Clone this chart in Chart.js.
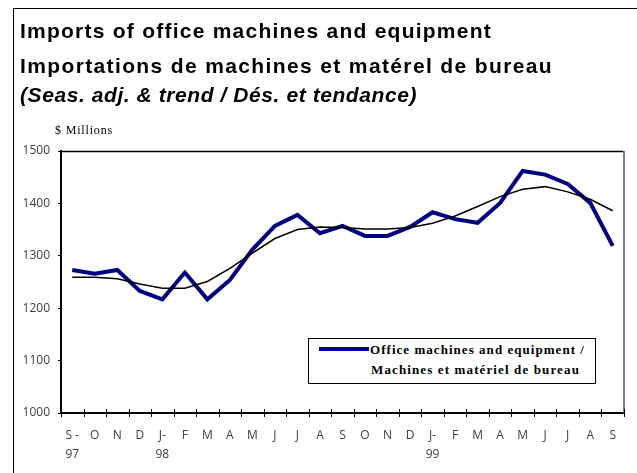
<!DOCTYPE html>
<html>
<head>
<meta charset="utf-8">
<script src="https://cdn.jsdelivr.net/npm/chart.js@4.4.1/dist/chart.umd.min.js"></script>
<style>
  html, body { margin: 0; padding: 0; background: #fff; }
  #wrap { position: relative; width: 637px; height: 473px; overflow: hidden; }
  #frame { position: absolute; left: 13px; top: 8px; width: 640px; height: 480px; border-left: 1px solid #000; border-top: 1px solid #000; }
  canvas { position: absolute; left: 0; top: 0; }
  .t { position: absolute; white-space: nowrap; line-height: 1; color: #000; }
  .h { font-family: "Liberation Sans", Arial, sans-serif; font-weight: bold; font-size: 21px; }
  .i { font-style: italic; }
  .s { font-family: "Liberation Serif", "Times New Roman", serif; }
  #legend { position: absolute; left: 308px; top: 338px; width: 286px; height: 44px; border: 1px solid #000; background: #fff; }
  #legline { position: absolute; left: 319px; top: 347px; width: 50px; height: 4px; background: #000080; }
</style>
</head>
<body>
<div id="wrap">
  <div id="frame"></div>
  <canvas id="c" width="637" height="473"></canvas>
  <div class="t h" id="t1" style="left:20px; top:20px;" data-w="472">Imports of office machines and equipment</div>
  <div class="t h" id="t2" style="left:20px; top:55px;" data-w="533">Importations de machines et matérel de bureau</div>
  <div class="t h i" id="t3" style="left:20px; top:84px;" data-w="397">(Seas. adj. &amp; trend / Dés. et tendance)</div>
  <div class="t s" id="t4" style="left:55px; top:124px; font-size:12px;" data-w="58">$ Millions</div>
  <div id="legend"></div>
  <div id="legline"></div>
  <div class="t s" id="l1" style="left:370px; top:343px; font-size:13px; font-weight:bold;" data-w="215">Office machines and equipment /</div>
  <div class="t s" id="l2" style="left:371px; top:363px; font-size:13px; font-weight:bold;" data-w="209">Machines et matériel de bureau</div>
</div>
<script>
// ---- data ----
const monthLabels = ['S -','O','N','D','J-','F','M','A','M','J','J','A','S','O','N','D','J-','F','M','A','M','J','J','A','S'];
const yearLabels  = ['97','','','','98','','','','','','','','','','','','99','','','','','','','',''];
const officeMachines = [1273,1266,1273,1233,1217,1268,1217,1254,1312,1357,1378,1343,1357,1338,1338,1355,1383,1370,1363,1401,1462,1455,1437,1401,1319];
const trend = [1259,1259,1256,1246,1238,1238,1251,1276,1305,1333,1350,1355,1354,1351,1351,1354,1362,1376,1394,1413,1427,1432,1422,1408,1386];
const yTicks = [1000,1100,1200,1300,1400,1500];

// fit text widths
document.querySelectorAll('.t').forEach(el => {
  const target = parseFloat(el.dataset.w);
  const w = el.getBoundingClientRect().width;
  const n = el.textContent.length;
  el.style.letterSpacing = ((target - w) / n) + 'px';
});

const labels = monthLabels.map((m, i) => yearLabels[i] ? [m, yearLabels[i]] : [m]);

const framePlugin = {
  id: 'framePlugin',
  afterDraw(chart) {
    const ctx = chart.ctx;
    const a = chart.chartArea;
    const xs = chart.scales.x;
    ctx.save();
    ctx.strokeStyle = '#000';
    ctx.lineWidth = 1.5;
    ctx.beginPath();
    ctx.moveTo(a.left, a.top + 0.5);
    ctx.lineTo(a.right, a.top + 0.5);
    ctx.stroke();
    ctx.strokeStyle = '#808080';
    ctx.lineWidth = 2;
    ctx.beginPath();
    ctx.moveTo(a.right, a.top);
    ctx.lineTo(a.right, a.bottom);
    ctx.stroke();
    ctx.strokeStyle = '#000';
    ctx.lineWidth = 1;
    const n = chart.data.labels.length;
    const step = (xs.getPixelForValue(1) - xs.getPixelForValue(0));
    for (let i = 0; i <= n; i++) {
      const x = Math.round(xs.getPixelForValue(0) - step / 2 + i * step) + 0.5;
      ctx.beginPath();
      ctx.moveTo(x, a.bottom - 4);
      ctx.lineTo(x, a.bottom + 4);
      ctx.stroke();
    }
    ctx.restore();
  }
};

new Chart(document.getElementById('c'), {
  type: 'line',
  data: {
    labels: labels,
    datasets: [
      {
        label: 'Trend',
        data: trend,
        borderColor: '#000000',
        borderWidth: 1.5,
        pointRadius: 0,
        tension: 0,
        fill: false
      },
      {
        label: 'Office machines and equipment / Machines et matériel de bureau',
        data: officeMachines,
        borderColor: '#000080',
        borderWidth: 4,
        pointRadius: 0,
        tension: 0,
        fill: false
      }
    ]
  },
  options: {
    responsive: false,
    animation: false,
    layout: { padding: { top: 151, right: 13, left: 0, bottom: 0 } },
    plugins: { legend: { display: false }, tooltip: { enabled: false }, title: { display: false } },
    scales: {
      x: {
        offset: true,
        grid: { display: true, drawOnChartArea: false, drawTicks: false, offset: true },
        border: { display: true, color: '#000', width: 2 },
        ticks: {
          autoSkip: false, maxRotation: 0, padding: 13,
          color: '#404040',
          font: { family: '"Open Sans", "DejaVu Sans", sans-serif', size: 12, lineHeight: 1.6 }
        },
        afterFit(scale) { scale.height = 60; }
      },
      y: {
        min: 1000, max: 1500,
        afterBuildTicks(scale) { scale.ticks = yTicks.map(v => ({ value: v })); },
        grid: { display: true, drawOnChartArea: false, drawTicks: true, tickLength: 3, color: '#000' },
        border: { display: true, color: '#000', width: 2 },
        ticks: {
          padding: 8,
          color: '#404040',
          font: { family: '"Open Sans", "DejaVu Sans", sans-serif', size: 12 },
          callback: (v) => String(v)
        },
        afterFit(scale) { scale.width = 61; }
      }
    }
  },
  plugins: [framePlugin]
});
</script>
</body>
</html>
